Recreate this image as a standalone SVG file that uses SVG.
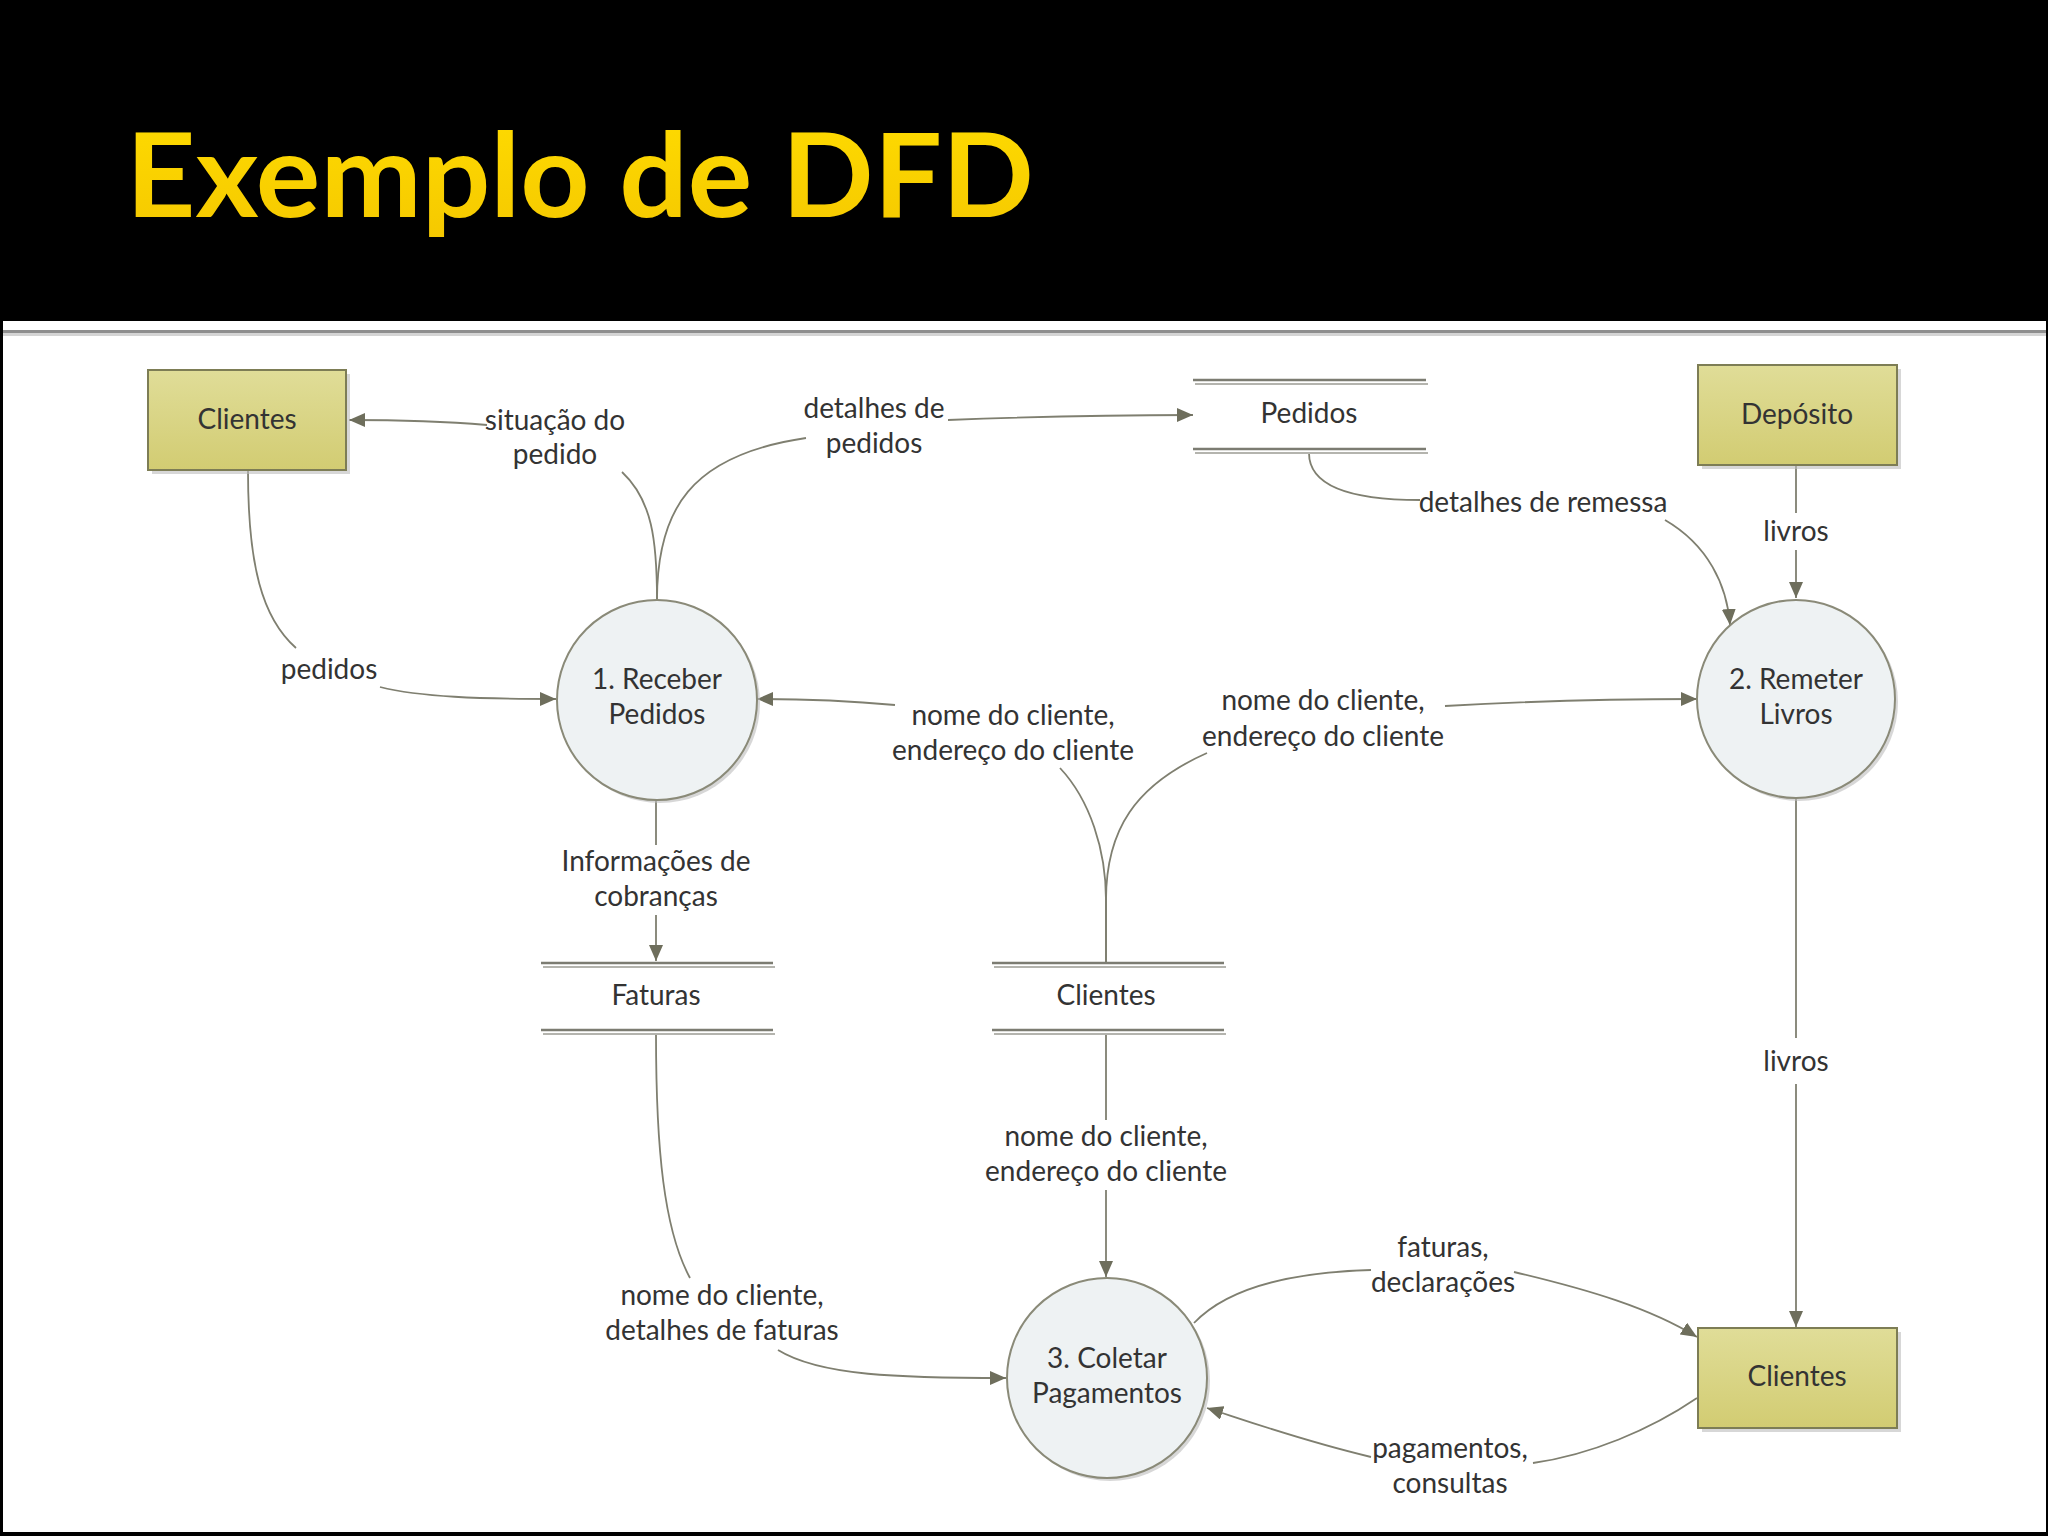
<svg xmlns="http://www.w3.org/2000/svg" width="2048" height="1536" viewBox="0 0 2048 1536">
  <defs>
    <linearGradient id="entityFill" x1="0" y1="0" x2="0" y2="1">
      <stop offset="0" stop-color="#e0dd98"/>
      <stop offset="1" stop-color="#d2cc72"/>
    </linearGradient>
    <linearGradient id="titleFill" x1="0" y1="0" x2="0" y2="1">
      <stop offset="0" stop-color="#ffdc00"/>
      <stop offset="1" stop-color="#f5c800"/>
    </linearGradient>
    <marker id="arrow" markerUnits="userSpaceOnUse" markerWidth="18" markerHeight="14" refX="16" refY="7" orient="auto">
      <path d="M0,0 L16,7 L0,14 Z" fill="#6e6e5c"/>
    </marker>
    <style>
      .lbl { font-family: Lato, "Open Sans", "Liberation Sans", sans-serif; font-size: 28px; fill: #333333; text-anchor: middle; }
      .ent { fill: url(#entityFill); stroke: #7d7d55; stroke-width: 2; }
      .shadow { fill: #bdbdbd; opacity: 0.6; }
      .proc { fill: #eef2f3; stroke: #8a8a78; stroke-width: 2; }
      .store1 { stroke: #7c7c72; stroke-width: 2.5; }
      .store2 { stroke: #b4b4ae; stroke-width: 2; }
      .flow { fill: none; stroke: #7f7f70; stroke-width: 1.8; }
    </style>
  </defs>

  <!-- background / slide frame -->
  <rect x="0" y="0" width="2048" height="1536" fill="#000000"/>
  <rect x="3" y="321" width="2043" height="1211" fill="#ffffff"/>
  <rect x="3" y="330" width="2043" height="3" fill="#8e8e8e"/>
  <rect x="3" y="333" width="2043" height="3" fill="#d4d4d4"/>

  <text x="126" y="217" font-family="Lato, 'Open Sans', 'Liberation Sans', sans-serif" font-size="116" font-weight="bold" fill="url(#titleFill)" textLength="908" lengthAdjust="spacingAndGlyphs">Exemplo de DFD</text>

  <!-- connectors -->
  <g id="connectors">
    <!-- situação do pedido -->
    <path class="flow" d="M657,600 C657,540 652,500 622,472"/>
    <path class="flow" marker-end="url(#arrow)" d="M487,425 C440,421 400,420 349,420"/>
    <!-- detalhes de pedidos -->
    <path class="flow" d="M657,600 C657,510 690,455 806,438"/>
    <path class="flow" marker-end="url(#arrow)" d="M948,420 C1050,416 1120,415 1193,415"/>
    <!-- pedidos -->
    <path class="flow" d="M248,471 C248,565 262,618 296,648"/>
    <path class="flow" marker-end="url(#arrow)" d="M380,687 C420,697 480,699 556,699"/>
    <!-- detalhes de remessa -->
    <path class="flow" d="M1309,453 C1309,488 1355,500 1420,500"/>
    <path class="flow" marker-end="url(#arrow)" d="M1665,520 C1708,545 1727,585 1730,625"/>
    <!-- livros (deposito) -->
    <path class="flow" d="M1796,466 L1796,513"/>
    <path class="flow" marker-end="url(#arrow)" d="M1796,550 L1796,598"/>
    <!-- clientes store -> processes -->
    <path class="flow" d="M1106,962 L1106,900 C1106,850 1090,800 1060,768"/>
    <path class="flow" d="M1106,962 L1106,900 C1106,830 1135,785 1207,753"/>
    <path class="flow" marker-end="url(#arrow)" d="M895,705 C840,700 800,699 757,699"/>
    <path class="flow" marker-end="url(#arrow)" d="M1445,706 C1550,700 1620,699 1697,699"/>
    <!-- informacoes de cobrancas -->
    <path class="flow" d="M656,800 L656,845"/>
    <path class="flow" marker-end="url(#arrow)" d="M656,915 L656,961"/>
    <!-- faturas -> coletar -->
    <path class="flow" d="M656,1034 C656,1150 664,1230 690,1278"/>
    <path class="flow" marker-end="url(#arrow)" d="M778,1350 C820,1376 900,1378 1006,1378"/>
    <!-- clientes store -> coletar -->
    <path class="flow" d="M1106,1034 L1106,1120"/>
    <path class="flow" marker-end="url(#arrow)" d="M1106,1190 L1106,1277"/>
    <!-- livros (remeter -> clientes) -->
    <path class="flow" d="M1796,799 L1796,1038"/>
    <path class="flow" marker-end="url(#arrow)" d="M1796,1084 L1796,1327"/>
    <!-- faturas, declaracoes -->
    <path class="flow" d="M1194,1323 C1230,1285 1300,1272 1371,1270"/>
    <path class="flow" marker-end="url(#arrow)" d="M1514,1272 C1590,1290 1650,1308 1697,1337"/>
    <!-- pagamentos, consultas -->
    <path class="flow" d="M1697,1398 C1650,1430 1590,1455 1533,1463"/>
    <path class="flow" marker-end="url(#arrow)" d="M1371,1457 C1300,1440 1250,1422 1207,1408"/>
  </g>

  <!-- flow labels -->
  <g id="flow-labels">
    <text class="lbl" x="555" y="430">situação do</text>
    <text class="lbl" x="555" y="464">pedido</text>
    <text class="lbl" x="874" y="418">detalhes de</text>
    <text class="lbl" x="874" y="453">pedidos</text>
    <text class="lbl" x="1543" y="512">detalhes de remessa</text>
    <text class="lbl" x="1796" y="541">livros</text>
    <text class="lbl" x="329" y="679">pedidos</text>
    <text class="lbl" x="1013" y="725">nome do cliente,</text>
    <text class="lbl" x="1013" y="760">endereço do cliente</text>
    <text class="lbl" x="1323" y="710">nome do cliente,</text>
    <text class="lbl" x="1323" y="746">endereço do cliente</text>
    <text class="lbl" x="656" y="871">Informações de</text>
    <text class="lbl" x="656" y="906">cobranças</text>
    <text class="lbl" x="1796" y="1071">livros</text>
    <text class="lbl" x="1106" y="1146">nome do cliente,</text>
    <text class="lbl" x="1106" y="1181">endereço do cliente</text>
    <text class="lbl" x="1443" y="1257">faturas,</text>
    <text class="lbl" x="1443" y="1292">declarações</text>
    <text class="lbl" x="722" y="1305">nome do cliente,</text>
    <text class="lbl" x="722" y="1340">detalhes de faturas</text>
    <text class="lbl" x="1450" y="1458">pagamentos,</text>
    <text class="lbl" x="1450" y="1493">consultas</text>
  </g>

  <!-- external entities -->
  <g id="ent-clientes-top">
    <rect class="shadow" x="152" y="374" width="198" height="100"/>
    <rect class="ent" x="148" y="370" width="198" height="100"/>
    <text class="lbl" x="247" y="429">Clientes</text>
  </g>
  <g id="ent-deposito">
    <rect class="shadow" x="1702" y="369" width="199" height="100"/>
    <rect class="ent" x="1698" y="365" width="199" height="100"/>
    <text class="lbl" x="1797" y="424">Depósito</text>
  </g>
  <g id="ent-clientes-bottom">
    <rect class="shadow" x="1702" y="1332" width="199" height="100"/>
    <rect class="ent" x="1698" y="1328" width="199" height="100"/>
    <text class="lbl" x="1797" y="1386">Clientes</text>
  </g>

  <!-- processes -->
  <g id="proc-1">
    <circle class="shadow" cx="660" cy="703" r="100"/>
    <circle class="proc" cx="657" cy="700" r="100"/>
    <text class="lbl" x="657" y="689">1. Receber</text>
    <text class="lbl" x="657" y="724">Pedidos</text>
  </g>
  <g id="proc-2">
    <circle class="shadow" cx="1799" cy="702" r="99"/>
    <circle class="proc" cx="1796" cy="699" r="99"/>
    <text class="lbl" x="1796" y="689">2. Remeter</text>
    <text class="lbl" x="1796" y="724">Livros</text>
  </g>
  <g id="proc-3">
    <circle class="shadow" cx="1110" cy="1381" r="100"/>
    <circle class="proc" cx="1107" cy="1378" r="100"/>
    <text class="lbl" x="1107" y="1368">3. Coletar</text>
    <text class="lbl" x="1107" y="1403">Pagamentos</text>
  </g>

  <!-- data stores -->
  <g id="store-pedidos">
    <line class="store1" x1="1193" y1="380" x2="1426" y2="380"/>
    <line class="store2" x1="1195" y1="384" x2="1428" y2="384"/>
    <line class="store1" x1="1193" y1="449" x2="1426" y2="449"/>
    <line class="store2" x1="1195" y1="453" x2="1428" y2="453"/>
    <text class="lbl" x="1309" y="423">Pedidos</text>
  </g>
  <g id="store-faturas">
    <line class="store1" x1="541" y1="963" x2="773" y2="963"/>
    <line class="store2" x1="543" y1="967" x2="775" y2="967"/>
    <line class="store1" x1="541" y1="1030" x2="773" y2="1030"/>
    <line class="store2" x1="543" y1="1034" x2="775" y2="1034"/>
    <text class="lbl" x="656" y="1005">Faturas</text>
  </g>
  <g id="store-clientes">
    <line class="store1" x1="992" y1="963" x2="1224" y2="963"/>
    <line class="store2" x1="994" y1="967" x2="1226" y2="967"/>
    <line class="store1" x1="992" y1="1030" x2="1224" y2="1030"/>
    <line class="store2" x1="994" y1="1034" x2="1226" y2="1034"/>
    <text class="lbl" x="1106" y="1005">Clientes</text>
  </g>
</svg>
